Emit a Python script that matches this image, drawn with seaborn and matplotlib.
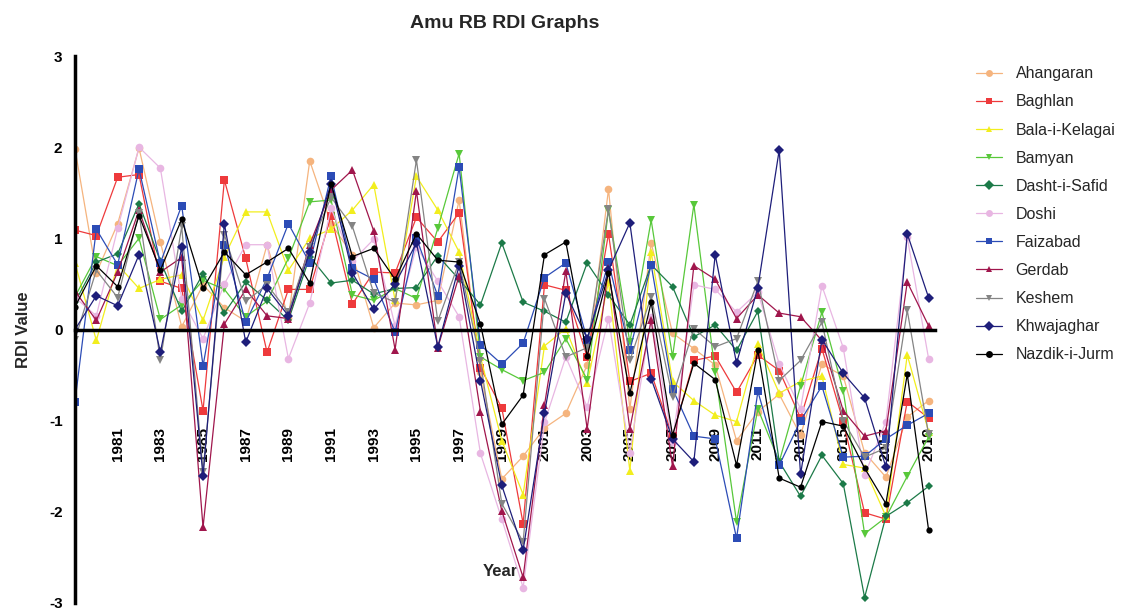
import numpy as np
import pandas as pd
import matplotlib
matplotlib.use("Agg")
import matplotlib.pyplot as plt
import seaborn as sns

years = list(range(1979, 2020))

ahangaran = [1.98, 0.62, 1.16, 1.99, 0.96, 0.03, 0.49, 0.24, 0.09, 0.93, 0.13, 1.85, 1.16, 0.82, 0.02, 0.29, 0.27, 0.32, 1.42, -0.47,
             -1.64, -1.39, -1.08, -0.92, -0.39, 1.54, -0.87, 0.95, -0.04, -0.21, -0.39, -1.22, -0.90, -0.71, -1.16, -0.38, -0.51, -1.35, -1.62, -0.96, -0.78]
baghlan = [1.09, 1.03, 1.67, 1.70, 0.53, 0.45, -0.89, 1.64, 0.78, -0.25, 0.44, 0.44, 1.25, 0.28, 0.63, 0.62, 1.23, 0.96, 1.28, -0.42,
           -0.86, -2.13, 0.49, 0.43, -0.30, 1.05, -0.57, -0.48, -1.17, -0.34, -0.29, -0.69, -0.28, -0.45, -0.97, -0.21, -1.01, -2.01, -2.08, -0.79, -0.97]
bala = [0.73, -0.12, 0.71, 0.45, 0.55, 0.60, 0.10, 0.80, 1.29, 1.29, 0.65, 1.00, 1.10, 1.31, 1.59, 0.32, 1.68, 1.31, 0.85, -0.30,
        -1.22, -1.81, -0.18, 0.01, -0.59, 0.52, -1.55, 0.85, -0.57, -0.78, -0.94, -1.01, -0.16, -0.70, -0.57, -0.51, -1.48, -1.52, -2.05, -0.28, -1.12]
bamyan = [0.36, 0.80, 0.70, 1.00, 0.11, 0.27, 0.54, 0.44, 0.14, 0.31, 0.78, 1.40, 1.42, 0.38, 0.32, 0.45, 0.34, 1.11, 1.93, -0.30,
          -0.44, -0.56, -0.47, -0.10, -0.55, 1.31, -0.14, 1.20, -0.30, 1.37, -0.47, -2.11, -0.87, -1.45, -0.62, 0.19, -0.67, -2.24, -2.06, -1.61, -1.18]
dasht = [0.30, 0.74, 0.83, 1.38, 0.75, 0.20, 0.61, 0.18, 0.52, 0.32, 0.10, 0.80, 0.51, 0.54, 0.39, 0.45, 0.46, 0.81, 0.55, 0.27,
         0.95, 0.30, 0.20, 0.08, 0.73, 0.38, 0.05, 0.71, 0.47, -0.08, 0.05, -0.23, 0.20, -1.45, -1.83, -1.38, -1.69, -2.94, -2.05, -1.90, -1.72]
doshi = [0.35, 0.15, 1.11, 2.00, 1.77, 0.34, -0.10, 0.50, 0.93, 0.93, -0.32, 0.29, 1.33, 0.75, 0.99, 0.04, 0.91, 0.53, 0.14, -1.36,
         -2.08, -2.83, -1.02, -0.30, -0.85, 0.12, -1.35, 0.14, -1.23, 0.49, 0.44, 0.19, 0.41, -0.38, -0.87, 0.48, -0.20, -1.60, -1.01, 1.01, -0.32]
faizabad = [-0.79, 1.10, 0.71, 1.76, 0.73, 1.36, -0.40, 0.93, 0.08, 0.56, 1.16, 0.73, 1.68, 0.67, 0.55, -0.03, 1.00, 0.37, 1.78, -0.17,
            -0.38, -0.15, 0.57, 0.73, -0.11, 0.74, -0.23, 0.71, -0.65, -1.17, -1.20, -2.29, -0.68, -1.49, -1.00, -0.62, -1.40, -1.39, -1.20, -1.05, -0.92]
gerdab = [0.42, 0.10, 0.63, 1.31, 0.63, 0.79, -2.17, 0.06, 0.44, 0.15, 0.12, 0.93, 1.53, 1.75, 1.08, -0.22, 1.52, -0.20, 0.59, -0.90,
          -1.99, -2.72, -0.83, 0.64, -1.09, 0.67, -1.09, 0.10, -1.50, 0.70, 0.55, 0.12, 0.38, 0.18, 0.14, -0.12, -0.89, -1.17, -1.11, 0.52, 0.04]
keshem = [-0.11, 0.65, 0.35, 1.28, -0.34, 1.13, -1.56, 1.04, 0.31, 0.49, 0.19, 0.90, 1.45, 1.13, 0.40, 0.30, 1.86, 0.09, 0.74, -0.35,
          -1.91, -2.33, 0.34, -0.30, -0.20, 1.32, -0.34, 0.36, -0.74, 0.01, -0.19, -0.10, 0.53, -0.56, -0.34, 0.08, -1.00, -1.40, -1.30, 0.21, -1.15]
khwajaghar = [0.00, 0.37, 0.26, 0.82, -0.25, 0.90, -1.61, 1.16, -0.14, 0.45, 0.15, 0.85, 1.60, 0.62, 0.22, 0.50, 0.95, -0.19, 0.70, -0.56,
              -1.71, -2.42, -0.92, 0.40, -0.10, 0.65, 1.17, -0.54, -1.20, -1.45, 0.82, -0.37, 0.46, 1.97, -1.59, -0.11, -0.48, -0.75, -1.51, 1.05, 0.35]
nazdik = [0.25, 0.70, 0.47, 1.25, 0.65, 1.21, 0.45, 0.85, 0.60, 0.74, 0.89, 0.51, 1.60, 0.80, 0.89, 0.55, 1.05, 0.76, 0.74, 0.06,
          -1.04, -0.72, 0.82, 0.96, -0.29, 0.62, -0.70, 0.30, -1.16, -0.37, -0.55, -1.49, -0.23, -1.63, -1.73, -1.01, -1.06, -1.52, -1.91, -0.49, -2.20]

stations = ["Ahangaran", "Baghlan", "Bala-i-Kelagai", "Bamyan", "Dasht-i-Safid", "Doshi",
            "Faizabad", "Gerdab", "Keshem", "Khwajaghar", "Nazdik-i-Jurm"]
series = [ahangaran, baghlan, bala, bamyan, dasht, doshi, faizabad, gerdab, keshem, khwajaghar, nazdik]
colors = ["#F5B47E", "#EE3A3C", "#F2EE1E", "#58C83A", "#1C7A48", "#E8B6E2",
          "#2C4CB6", "#A0164C", "#848484", "#1E1E7A", "#000000"]
markers = ["o", "s", "^", "v", "D", "o", "s", "^", "v", "D", "o"]
msizes = [5.5, 5.5, 5.5, 6, 4, 5.5, 6, 6, 6, 5, 4.5]

rows = []
for name, vals in zip(stations, series):
    for y, v in zip(years, vals):
        rows.append({"Year": y, "RDI": v, "Station": name})
df = pd.DataFrame(rows)

sns.set_style("white")
plt.rcParams["font.family"] = ["Liberation Sans", "DejaVu Sans"]

fig = plt.figure(figsize=(11.25, 6.10), dpi=100)
ax = fig.add_axes([75 / 1125, 7 / 610, 860 / 1125, 547 / 610])

sns.lineplot(data=df, x="Year", y="RDI", hue="Station", style="Station",
             hue_order=stations, style_order=stations,
             palette=dict(zip(stations, colors)),
             markers=dict(zip(stations, markers)),
             dashes=False, linewidth=0.9, markeredgewidth=0,
             ax=ax, legend=True)

for line, ms in zip(ax.lines[:len(stations)], msizes):
    line.set_markersize(ms)

for s in ["top", "right"]:
    ax.spines[s].set_visible(False)
ax.spines["bottom"].set_position(("data", 0))
ax.spines["left"].set_linewidth(2.5)
ax.spines["bottom"].set_linewidth(2.5)
ax.spines["left"].set_color("black")
ax.spines["bottom"].set_color("black")
ax.tick_params(axis="x", direction="out", length=6, width=2.5, pad=64, colors="black")
ax.tick_params(axis="y", direction="out", length=7, width=2.5, pad=2, colors="black")
ax.grid(False)

ax.set_xlim(1979, 2019.3)
ax.set_ylim(-3, 3)
ax.set_yticks([-3, -2, -1, 0, 1, 2, 3])
ax.set_yticklabels(["-3", "-2", "-1", "0", "1", "2", "3"], fontweight="bold", fontsize=11)
xt = list(range(1981, 2020, 2))
ax.set_xticks(xt)
ax.set_xticklabels([str(t) for t in xt], rotation=90, fontweight="bold", fontsize=11)

ax.set_title("Amu RB RDI Graphs", fontweight="bold", fontsize=14, pad=20)
ax.set_ylabel("RDI Value", fontweight="bold", fontsize=12, labelpad=13)
ax.set_xlabel("Year", fontweight="bold", fontsize=12)
ax.xaxis.set_label_coords(0.494, 0.072)

handles, labels = ax.get_legend_handles_labels()
ax.legend_.remove()
leg = fig.legend(handles, labels, loc="upper left", bbox_to_anchor=(970 / 1125, 1 - 60 / 610),
                 frameon=False, fontsize=11.5, labelspacing=0.82, handlelength=1.6,
                 handletextpad=0.85, borderaxespad=0)
for h in leg.legend_handles:
    h.set_markersize(5)

fig.savefig("out.png", dpi=100, facecolor="white")
